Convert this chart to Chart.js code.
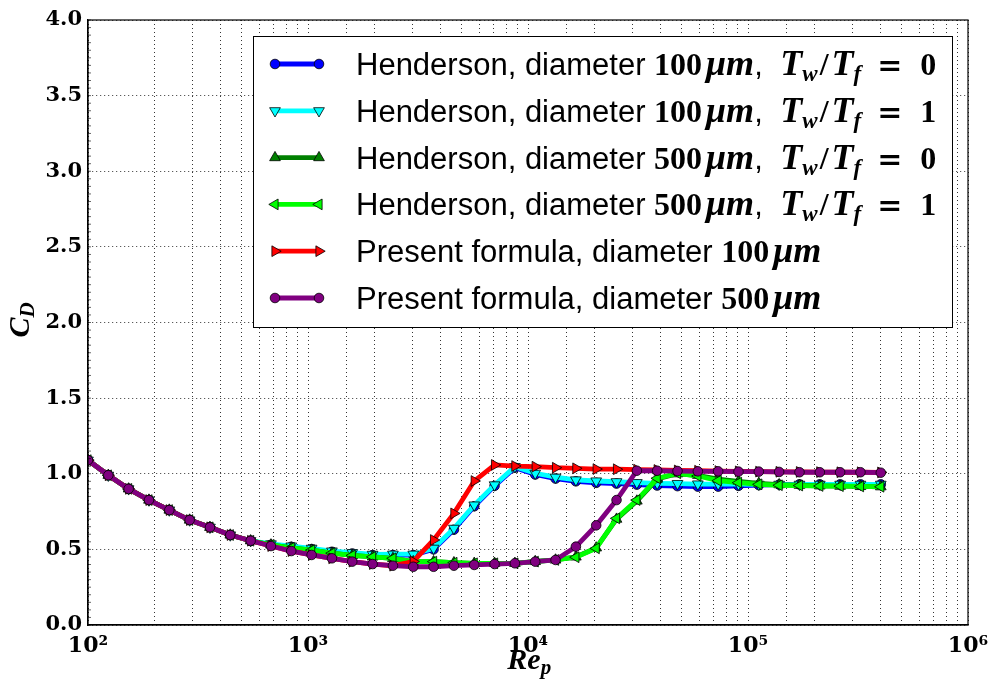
<!DOCTYPE html>
<html>
<head>
<meta charset="utf-8">
<title>C_D vs Re_p</title>
<script src="https://cdn.jsdelivr.net/npm/chart.js@4.4.1/dist/chart.umd.min.js"></script>
<style>
    body { margin: 0; background: #fff; }
    canvas { display: block; }
</style>
</head>
<body>
<canvas id="cdChart" width="991" height="684"></canvas>
<script>
// particle Reynolds numbers of the sample points
const reynolds = [
    100, 123.7, 153, 189.3, 234.2, 289.7, 358.4, 443.4, 548.6, 678.6,
    839.5, 1038.5, 1284.7, 1589.3, 1966.2, 2432.3, 3009, 3722, 4605, 5697,
    7047, 8718, 10785, 13342, 16506, 20417, 25258, 31247, 38656, 47820,
    59156, 73181, 90530, 111990, 138540, 171400, 212000, 262300, 324500, 401400
];

const henderson100Cold = [
    1.09, 0.99, 0.90, 0.826, 0.76, 0.694, 0.646, 0.595, 0.557, 0.53,
    0.517, 0.502, 0.484, 0.473, 0.462, 0.462, 0.462, 0.50, 0.63, 0.785,
    0.92, 1.04, 0.995, 0.968, 0.95, 0.94, 0.935, 0.928, 0.922, 0.918,
    0.915, 0.915, 0.92, 0.925, 0.928, 0.93, 0.93, 0.93, 0.93, 0.93
];
const henderson100Hot = [
    1.09, 0.99, 0.90, 0.826, 0.76, 0.694, 0.646, 0.595, 0.557, 0.536,
    0.522, 0.507, 0.489, 0.478, 0.467, 0.468, 0.468, 0.507, 0.639, 0.793,
    0.926, 1.047, 1.003, 0.977, 0.959, 0.952, 0.947, 0.941, 0.937, 0.935,
    0.932, 0.932, 0.931, 0.93, 0.93, 0.93, 0.93, 0.93, 0.93, 0.93
];
const henderson500Cold = [
    1.09, 0.99, 0.90, 0.826, 0.76, 0.694, 0.646, 0.595, 0.557, 0.53,
    0.51, 0.495, 0.475, 0.46, 0.45, 0.44, 0.419, 0.419, 0.412, 0.408,
    0.408, 0.408, 0.42, 0.43, 0.45, 0.51, 0.70, 0.82, 0.965, 1.0,
    0.99, 0.965, 0.95, 0.937, 0.928, 0.924, 0.92, 0.918, 0.916, 0.914
];
const henderson500Hot = [
    1.09, 0.99, 0.90, 0.826, 0.76, 0.694, 0.646, 0.595, 0.557, 0.53,
    0.51, 0.495, 0.475, 0.46, 0.45, 0.441, 0.419, 0.419, 0.412, 0.408,
    0.408, 0.408, 0.419, 0.43, 0.448, 0.507, 0.705, 0.826, 0.97, 1.003,
    0.985, 0.954, 0.941, 0.93, 0.924, 0.922, 0.919, 0.918, 0.916, 0.914
];
const present100 = [
    1.09, 0.99, 0.90, 0.826, 0.76, 0.694, 0.646, 0.595, 0.557, 0.522,
    0.489, 0.463, 0.441, 0.419, 0.403, 0.392, 0.42, 0.562, 0.738, 0.952,
    1.058, 1.051, 1.047, 1.04, 1.036, 1.031, 1.03, 1.027, 1.025, 1.022,
    1.02, 1.018, 1.016, 1.014, 1.013, 1.012, 1.011, 1.01, 1.01, 1.009
];
const present500 = [
    1.09, 0.99, 0.90, 0.826, 0.76, 0.694, 0.646, 0.595, 0.557, 0.522,
    0.489, 0.463, 0.441, 0.419, 0.403, 0.392, 0.385, 0.385, 0.392, 0.397,
    0.403, 0.408, 0.419, 0.43, 0.518, 0.659, 0.826, 1.02, 1.02, 1.018,
    1.016, 1.016, 1.014, 1.014, 1.012, 1.01, 1.01, 1.01, 1.01, 1.007
];

// legend labels, split into pieces: s = sans text, n = math upright, i = math italic,
// b = math subscript, e = equals sign; a number is a gap in pixels
const labelParts = [
    [['Henderson, diameter ', 's'], ['100', 'n'], 4, ['μm', 'i'], [', ', 's'], 9, ['T', 'i'], ['w', 'b'], 2, ['/', 'n'], 3, ['T', 'i'], ['f', 'b'], 16, ['=', 'e'], 18, ['0', 'n']],
    [['Henderson, diameter ', 's'], ['100', 'n'], 4, ['μm', 'i'], [', ', 's'], 9, ['T', 'i'], ['w', 'b'], 2, ['/', 'n'], 3, ['T', 'i'], ['f', 'b'], 16, ['=', 'e'], 18, ['1', 'n']],
    [['Henderson, diameter ', 's'], ['500', 'n'], 4, ['μm', 'i'], [', ', 's'], 9, ['T', 'i'], ['w', 'b'], 2, ['/', 'n'], 3, ['T', 'i'], ['f', 'b'], 16, ['=', 'e'], 18, ['0', 'n']],
    [['Henderson, diameter ', 's'], ['500', 'n'], 4, ['μm', 'i'], [', ', 's'], 9, ['T', 'i'], ['w', 'b'], 2, ['/', 'n'], 3, ['T', 'i'], ['f', 'b'], 16, ['=', 'e'], 18, ['1', 'n']],
    [['Present formula, diameter ', 's'], ['100', 'n'], 4, ['μm', 'i']],
    [['Present formula, diameter ', 's'], ['500', 'n'], 4, ['μm', 'i']]
];

const xTickValues = [1e2, 1e3, 1e4, 1e5, 1e6];
const xTickLabels = ['10²', '10³', '10⁴', '10⁵', '10⁶'];

const seriesColors = ['#0000ff', '#00ffff', '#008000', '#00ff00', '#ff0000', '#800080'];
const seriesStyles = ['circle', 'triangle', 'triangle', 'triangle', 'triangle', 'circle'];
const seriesRotations = [0, 180, 0, -90, 90, 0];
const seriesValues = [henderson100Cold, henderson100Hot, henderson500Cold, henderson500Hot, present100, present500];

const fonts = {
    s: '31px "Liberation Sans"',
    n: 'bold 32px "Liberation Serif"',
    i: 'bold italic 36px "Liberation Serif"',
    b: 'bold italic 23px "Liberation Serif"',
    e: 'bold 30px "DejaVu Serif"'
};

function drawParts(ctx, parts, x, y) {
    parts.forEach(part => {
        if (typeof part === 'number') {
            x += part;
            return;
        }
        const [text, kind] = part;
        ctx.font = fonts[kind];
        const dy = kind === 'b' ? 6 : 0;
        ctx.fillText(text, x, y + dy);
        x += ctx.measureText(text).width;
    });
}

const frameAndLegend = {
    id: 'frameAndLegend',
    afterDatasetsDraw(chart) {
        const { ctx, chartArea: a } = chart;
        ctx.save();
        ctx.strokeStyle = '#000';
        ctx.lineWidth = 1.2;
        ctx.strokeRect(a.left, a.top, a.right - a.left, a.bottom - a.top);
        // minor ticks on the left spine
        ctx.lineWidth = 0.6;
        ctx.beginPath();
        for (let v = 0; v <= 4.0001; v += 0.05) {
            const py = chart.scales.y.getPixelForValue(v);
            ctx.moveTo(a.left, py);
            ctx.lineTo(a.left + 3, py);
        }
        ctx.stroke();
        ctx.restore();
    },
    afterDraw(chart) {
        const ctx = chart.ctx;
        const a = chart.chartArea;
        ctx.save();

        // legend box
        ctx.fillStyle = '#fff';
        ctx.fillRect(253, 36, 699, 291);
        ctx.strokeStyle = '#000';
        ctx.lineWidth = 1;
        ctx.strokeRect(253.5, 36.5, 699, 291);

        chart.data.datasets.forEach((ds, k) => {
            const rowY = 64 + k * 46.8;
            ctx.strokeStyle = ds.borderColor;
            ctx.lineWidth = ds.borderWidth;
            ctx.beginPath();
            ctx.moveTo(275, rowY);
            ctx.lineTo(319, rowY);
            ctx.stroke();
            [275, 319].forEach(px => {
                ctx.fillStyle = ds.pointBackgroundColor;
                ctx.strokeStyle = '#000';
                ctx.lineWidth = ds.pointBorderWidth;
                Chart.helpers.drawPoint(ctx, {
                    pointStyle: ds.pointStyle,
                    rotation: ds.pointRotation,
                    radius: ds.pointRadius,
                    borderWidth: ds.pointBorderWidth
                }, px, rowY);
            });
            ctx.fillStyle = '#000';
            ctx.textBaseline = 'alphabetic';
            drawParts(ctx, labelParts[k], 356, rowY + 11);
        });

        // axis titles
        ctx.fillStyle = '#000';
        ctx.font = 'bold italic 30px "Liberation Serif"';
        const mid = (a.left + a.right) / 2;
        const reW = ctx.measureText('Re').width;
        ctx.fillText('Re', mid - reW / 2 - 4, 669);
        ctx.font = 'bold italic 21px "Liberation Serif"';
        ctx.fillText('p', mid + reW / 2 - 4, 674);

        ctx.translate(29, (a.top + a.bottom) / 2);
        ctx.rotate(-Math.PI / 2);
        ctx.font = 'bold italic 30px "Liberation Serif"';
        const cW = ctx.measureText('C').width;
        ctx.fillText('C', -cW / 2 - 5, 0);
        ctx.font = 'bold italic 21px "Liberation Serif"';
        ctx.fillText('D', cW / 2 - 5, 5);
        ctx.restore();
    }
};

const datasets = seriesValues.map((vals, k) => ({
    label: labelParts[k].filter(p => typeof p !== 'number').map(p => p[0]).join(''),
    data: reynolds.map((re, i) => ({ x: re, y: vals[i] })),
    borderColor: seriesColors[k],
    backgroundColor: seriesColors[k],
    pointBackgroundColor: seriesColors[k],
    pointBorderColor: '#000',
    pointBorderWidth: 0.8,
    pointStyle: seriesStyles[k],
    pointRotation: seriesRotations[k],
    pointRadius: seriesStyles[k] === 'circle' ? 4.8 : 6.2,
    borderWidth: 4.8,
    tension: 0,
    order: 6 - k
}));

new Chart(document.getElementById('cdChart'), {
    type: 'line',
    data: { datasets: datasets },
    options: {
        responsive: false,
        animation: false,
        layout: { padding: { left: 0, top: 20, right: 23, bottom: 0 } },
        plugins: {
            legend: { display: false },
            tooltip: { enabled: false }
        },
        scales: {
            x: {
                type: 'logarithmic',
                min: 100,
                max: 1e6,
                afterFit: s => {
                    s.height = 59;
                    s.paddingLeft = 0;
                    s.paddingRight = 0;
                },
                grid: { color: '#000', lineWidth: 0.8, drawTicks: false },
                border: { color: '#000', width: 1.2, dash: [1, 3] },
                ticks: {
                    autoSkip: false,
                    maxRotation: 0,
                    padding: 8,
                    color: '#000',
                    font: { family: 'DejaVu Serif', weight: 'bold', size: 22 },
                    callback: v => {
                        const idx = xTickValues.findIndex(t => Math.abs(t - v) < v * 1e-6);
                        return idx >= 0 ? xTickLabels[idx] : '';
                    }
                }
            },
            y: {
                min: 0,
                max: 4,
                afterFit: s => {
                    s.width = 88;
                    s.paddingTop = 0;
                    s.paddingBottom = 0;
                },
                grid: { color: '#000', lineWidth: 0.8, drawTicks: false },
                border: { color: '#000', width: 1.2, dash: [1, 3] },
                ticks: {
                    stepSize: 0.5,
                    padding: 6,
                    color: '#000',
                    font: { family: 'DejaVu Serif', weight: 'bold', size: 21 },
                    callback: v => v.toFixed(1)
                }
            }
        }
    },
    plugins: [frameAndLegend]
});
</script>
</body>
</html>
